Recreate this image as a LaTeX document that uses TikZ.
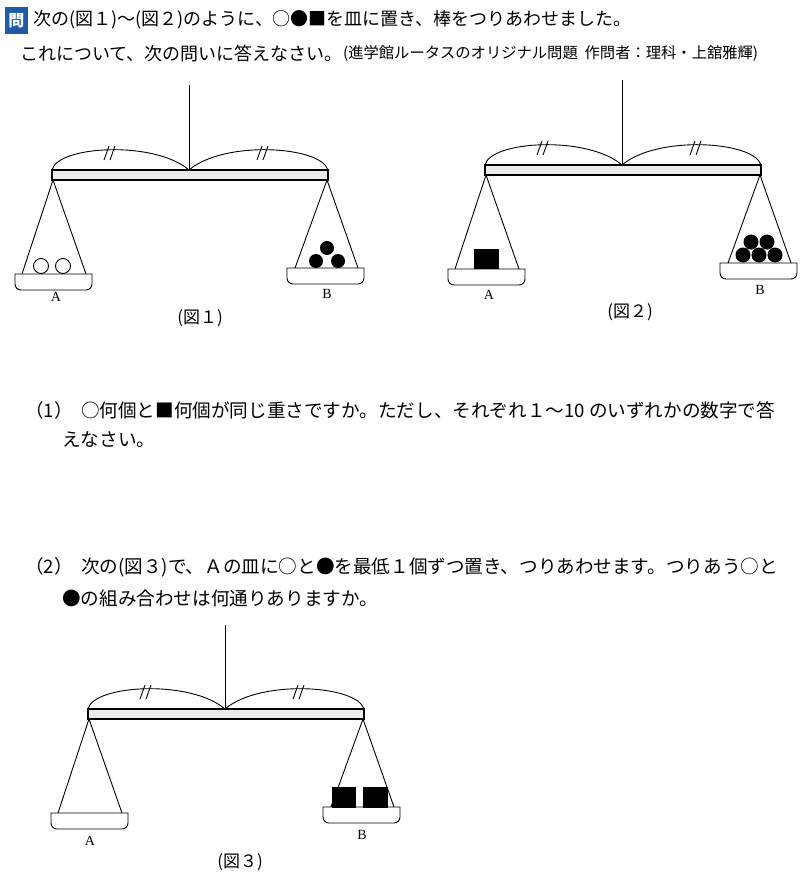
\documentclass[tikz,border=0pt]{standalone}
\usepackage{fontspec}
\newfontfamily\jp{Noto Sans CJK JP}
\setmainfont{Liberation Serif}
\definecolor{qblue}{RGB}{30,90,170}
\definecolor{barfill}{RGB}{235,235,235}
\tikzset{
  ln/.style={line width=0.9pt},
  barst/.style={line width=1.6pt, fill=barfill},
  pan/.style={line width=0.9pt, fill=white},
  lab/.style={font=\fontsize{14}{14}\selectfont},
  figcap/.style={font=\jp\fontsize{17}{17}\selectfont},
  txt/.style={font=\jp\fontsize{18}{18}\selectfont, anchor=west, inner sep=0pt},
  qtxt/.style={font=\jp\fontsize{18.6}{18.6}\selectfont, anchor=west, inner sep=0pt},
  sml/.style={font=\jp\fontsize{15.3}{15.3}\selectfont, anchor=west, inner sep=0pt},
  wb/.style={draw, line width=0.9pt, fill=white},
}
\newcommand{\mybal}[3]{%
 \begin{scope}[shift={(#1,#2)}]
  \draw[ln] (0,#3) -- (0,0);
  \draw[ln] (-137,0) .. controls (-132,-24) and (-35,-30) .. (0,0);
  \draw[ln] (0,0) .. controls (35,-30) and (132,-24) .. (139,0);
  \draw[ln] (-85,-10) -- (-80,-24) (-79,-10) -- (-74,-24);
  \draw[ln] (68,-10) -- (73,-24) (74,-10) -- (79,-24);
  \draw[barst] (-137,0) rectangle (139,10);
  \draw[ln] (-136,10) -- (-167,104) (-136,10) -- (-103,104);
  \draw[ln] (138,10) -- (106,98) (138,10) -- (169,98);
  \draw[pan] (-174,104) -- (-97,104) -- (-97,113) [rounded corners=6pt] -- (-97,120) -- (-174,120) [sharp corners] -- (-174,104) -- cycle;
  \draw[pan] (98,98) -- (175,98) -- (175,107) [rounded corners=6pt] -- (175,114) -- (98,114) [sharp corners] -- (98,98) -- cycle;
 \end{scope}}
\begin{document}
\begin{tikzpicture}[x=1pt,y=-1pt]
\useasboundingbox (0,0) rectangle (800,875);
% header
\fill[qblue] (5,7) rectangle (28,34);
\node[font=\jp\fontsize{16}{16}\selectfont\bfseries, text=white] at (16.5,20.5) {問};
\node[txt] at (33,20) {次の(図１)～(図２)のように、○●■を皿に置き、棒をつりあわせました。};
\node[txt] (l2) at (20,54) {これについて、次の問いに答えなさい。};
\node[sml] at (l2.east) {(進学館ルータスのオリジナル問題\ \ 作問者：理科・上舘雅輝)};
% fig1
\mybal{189}{170}{-85}
\draw[wb] (41,266) circle (7.5); \draw[wb] (63,266) circle (7.5);
\fill (316,261) circle (7); \fill (338,261) circle (7); \fill (327,248) circle (7);
\node[lab] at (56,297) {A}; \node[lab] at (327,294) {B};
\node[figcap] at (200,318) {(図１)};
% fig2
\mybal{622}{165}{-85}
\fill (474,249) rectangle (499,269);
\foreach \x in {743,759,775} \fill (\x,255) circle (7.5);
\foreach \x in {751,767} \fill (\x,242) circle (7.5);
\node[lab] at (489,295) {A}; \node[lab] at (760,290) {B};
\node[figcap] at (630,312) {(図２)};
% questions
\node[qtxt] at (25,410) {（1）\ \ ○何個と■何個が同じ重さですか。ただし、それぞれ１～10 のいずれかの数字で答};
\node[qtxt] at (62,440) {えなさい。};
\node[qtxt] at (25,567) {（2）\ \ 次の(図３)で、Ａの皿に○と●を最低１個ずつ置き、つりあわせます。つりあう○と};
\node[qtxt] at (62,598) {●の組み合わせは何通りありますか。};
% fig3
\mybal{225}{709}{-84}
\fill (332,787) rectangle (356,808); \fill (363,787) rectangle (388,808);
\node[lab] at (90,841) {A}; \node[lab] at (362,835) {B};
\node[figcap] at (240,862) {(図３)};
\end{tikzpicture}
\end{document}
